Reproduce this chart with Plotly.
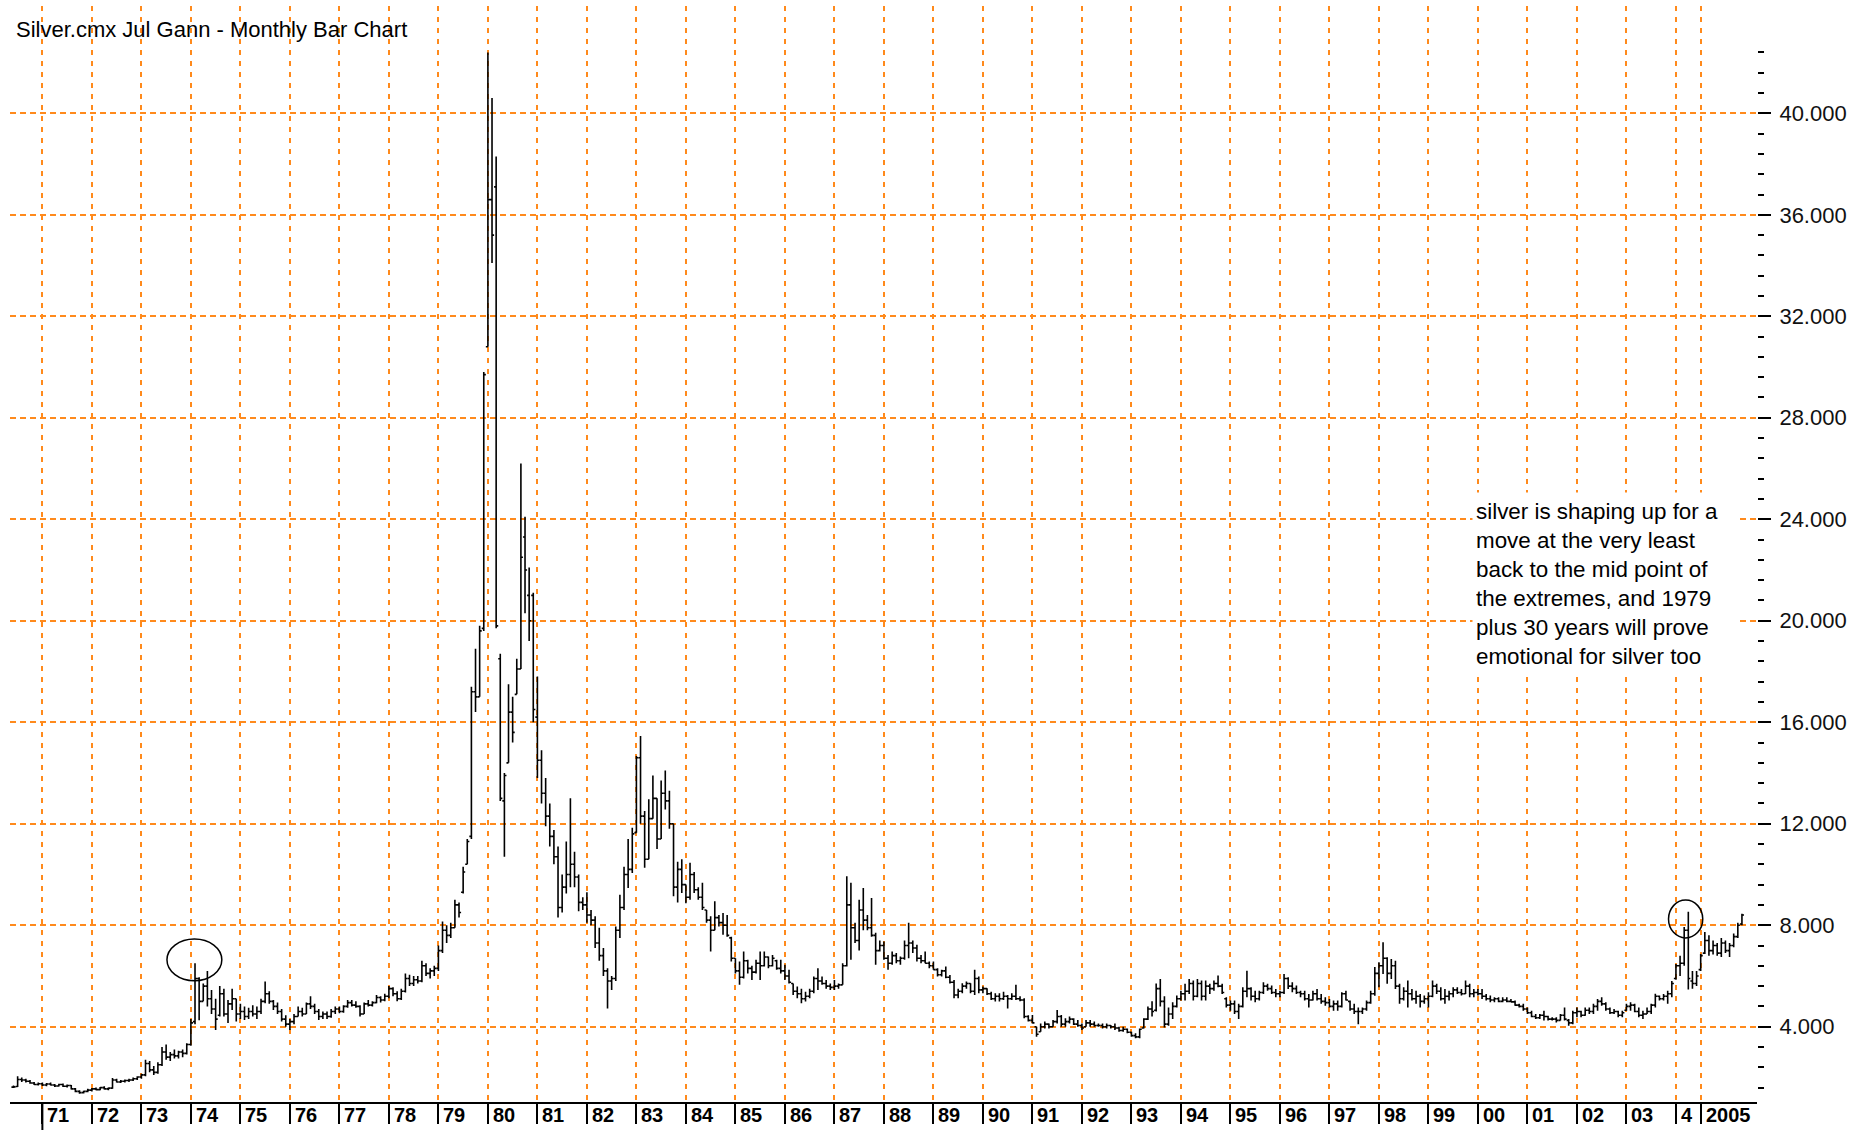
import pandas as pd
import plotly.graph_objects as go

# ---------------- data (monthly OHLC, Jun 1970 .. May 2005) ----------------
month_start = "1970-06"
month_end = "2005-05"

opens = [
    1.62, 1.64, 1.92, 1.90, 1.85, 1.78, 1.72,
    1.75, 1.70, 1.74, 1.70, 1.66, 1.72, 1.65, 1.68, 1.55, 1.45, 1.40, 1.45,
    1.50, 1.55, 1.52, 1.60, 1.55, 1.58, 1.90, 1.82, 1.85, 1.88, 1.90, 1.95,
    2.02, 2.10, 2.55, 2.30, 2.20, 2.50, 3.00, 2.80, 2.90, 2.85, 3.00, 2.95,
    3.30, 4.20, 5.90, 5.00, 5.60, 5.10, 4.70, 4.45, 5.30, 4.50, 4.90, 5.10,
    4.50, 4.60, 4.40, 4.60, 4.50, 4.60, 5.00, 5.30, 5.00, 4.80, 4.60, 4.30,
    4.10, 4.20, 4.40, 4.60, 4.50, 4.90, 4.80, 4.60, 4.40, 4.50, 4.40, 4.60,
    4.70, 4.60, 4.80, 4.95, 4.85, 4.80, 4.50, 4.90, 4.85, 4.95, 5.15, 5.05,
    5.20, 5.50, 5.30, 5.10, 5.40, 5.90, 5.70, 5.85, 5.80, 6.40, 6.10, 6.20,
    6.30, 7.00, 7.80, 7.60, 7.90, 8.80, 9.30, 10.40, 11.50, 17.20, 17.00, 19.70,
    30.80, 36.60, 37.10, 18.50, 12.90, 14.40, 16.40, 17.10, 18.10, 23.30, 21.00, 21.00,
    16.20, 14.50, 13.20, 12.30, 11.50, 10.70, 8.70, 9.50, 10.00, 10.40, 9.90, 8.90,
    8.80, 8.40, 8.20, 7.30, 6.80, 6.20, 5.80, 5.90, 7.80, 8.70, 10.00, 10.20,
    11.65, 14.60, 12.30, 10.60, 12.20, 13.00, 11.40, 13.20, 12.90, 12.00, 9.50, 10.20,
    9.60, 9.10, 10.00, 9.40, 9.10, 8.60, 8.20, 7.80, 8.30, 8.10, 8.00, 7.50,
    6.70, 6.20, 5.95, 6.60, 6.30, 6.15, 6.50, 6.40, 6.75, 6.40, 6.60, 6.30,
    6.20, 6.00, 5.70, 5.40, 5.30, 5.10, 5.20, 5.40, 5.90, 5.80, 5.70, 5.60,
    5.55, 5.60, 5.65, 6.40, 8.80, 7.90, 7.40, 8.60, 8.20, 7.90, 7.60, 7.00,
    7.20, 6.70, 6.50, 6.80, 6.60, 6.70, 7.20, 7.30, 7.10, 6.70, 6.60, 6.50,
    6.40, 6.25, 6.05, 6.20, 5.95, 5.75, 5.25, 5.40, 5.60, 5.70, 5.40, 5.90,
    5.45, 5.50, 5.30, 5.10, 5.20, 5.10, 5.20, 5.10, 5.20, 5.10, 5.05, 4.40,
    4.25, 4.00, 3.80, 4.00, 4.10, 4.00, 4.20, 4.40, 4.10, 4.20, 4.30, 4.10,
    4.05, 4.00, 4.15, 4.10, 4.05, 4.05, 4.00, 4.05, 4.00, 3.95, 3.85, 3.90,
    3.78, 3.65, 3.60, 3.95, 4.30, 4.70, 4.65, 5.50, 5.00, 4.10, 4.50, 4.80,
    5.10, 5.30, 5.40, 5.70, 5.20, 5.70, 5.20, 5.60, 5.50, 5.70, 5.60, 5.10,
    4.85, 4.90, 4.60, 4.80, 5.40, 5.50, 5.20, 5.10, 5.35, 5.60, 5.50, 5.35,
    5.30, 5.35, 5.90, 5.60, 5.50, 5.35, 5.30, 5.10, 5.05, 5.30, 5.10, 5.00,
    4.95, 4.80, 4.90, 4.80, 5.30, 5.00, 4.70, 4.60, 4.60, 4.70, 4.95, 5.30,
    6.10, 6.40, 6.70, 6.10, 6.40, 5.60, 5.10, 5.40, 5.30, 5.10, 5.20, 5.00,
    5.10, 5.20, 5.60, 5.40, 5.10, 5.20, 5.30, 5.45, 5.35, 5.30, 5.60, 5.30,
    5.35, 5.30, 5.20, 5.10, 5.05, 5.10, 5.00, 5.05, 5.00, 4.98, 4.85, 4.80,
    4.70, 4.55, 4.40, 4.35, 4.45, 4.40, 4.30, 4.30, 4.25, 4.45, 4.25, 4.15,
    4.55, 4.60, 4.45, 4.65, 4.60, 4.80, 5.00, 4.90, 4.70, 4.55, 4.60, 4.45,
    4.65, 4.80, 4.85, 4.60, 4.45, 4.50, 4.60, 4.85, 5.20, 5.10, 5.20, 5.30,
    5.90, 6.40, 6.50, 7.80, 5.80, 5.70, 6.25, 6.90, 7.40, 7.00, 7.20, 6.90,
    7.30, 7.00, 7.20, 7.55, 8.05,
]

highs = [
    1.68, 2.05, 2.00, 1.95, 1.90, 1.82, 1.80,
    1.80, 1.78, 1.80, 1.74, 1.75, 1.76, 1.72, 1.70, 1.58, 1.50, 1.48, 1.55,
    1.58, 1.60, 1.62, 1.65, 1.60, 1.98, 1.95, 1.90, 1.92, 1.95, 2.00, 2.05,
    2.15, 2.70, 2.65, 2.45, 2.60, 3.20, 3.30, 3.00, 3.10, 3.05, 3.10, 3.35,
    4.30, 6.50, 5.95, 5.70, 6.20, 5.45, 5.10, 5.60, 5.50, 5.05, 5.50, 5.10,
    4.90, 4.80, 4.75, 4.85, 4.80, 5.10, 5.78, 5.40, 5.05, 4.95, 4.70, 4.45,
    4.30, 4.50, 4.80, 4.75, 4.95, 5.20, 4.90, 4.70, 4.60, 4.60, 4.70, 4.80,
    4.80, 4.85, 5.05, 5.05, 5.00, 4.85, 4.95, 5.05, 5.00, 5.25, 5.20, 5.30,
    5.60, 5.55, 5.40, 5.50, 6.10, 6.05, 6.00, 6.00, 6.60, 6.50, 6.30, 6.40,
    7.20, 8.15, 8.00, 8.10, 9.00, 8.90, 10.30, 11.40, 17.40, 18.90, 19.80, 29.80,
    42.40, 40.60, 38.30, 18.70, 14.00, 17.50, 17.00, 18.50, 26.20, 24.10, 22.10, 21.10,
    17.80, 14.90, 13.80, 12.80, 11.75, 11.10, 10.00, 11.30, 13.00, 10.90, 10.00, 9.10,
    9.30, 8.60, 8.35, 7.90, 7.10, 6.30, 6.00, 7.95, 9.20, 10.30, 11.40, 11.84,
    14.67, 15.46, 12.50, 12.96, 13.90, 13.00, 13.70, 14.10, 13.30, 12.00, 10.50, 10.60,
    9.60, 10.46, 10.10, 9.50, 9.67, 8.60, 8.35, 8.94, 8.40, 8.48, 8.40, 7.55,
    6.70, 6.57, 6.96, 6.64, 6.40, 6.64, 6.96, 6.96, 6.77, 6.83, 6.64, 6.64,
    6.44, 6.24, 5.70, 5.58, 5.50, 5.38, 5.50, 5.98, 6.30, 5.98, 5.84, 5.70,
    5.84, 5.70, 6.50, 9.93, 9.67, 8.10, 9.00, 9.47, 8.40, 9.07, 7.70, 7.40,
    7.36, 6.83, 6.96, 6.90, 6.77, 7.40, 8.10, 7.40, 7.23, 6.83, 6.96, 6.57,
    6.57, 6.30, 6.24, 6.37, 6.04, 5.84, 5.50, 5.71, 5.78, 5.71, 6.24, 5.98,
    5.58, 5.52, 5.38, 5.32, 5.32, 5.38, 5.25, 5.32, 5.65, 5.20, 5.12, 4.45,
    4.46, 4.00, 4.13, 4.20, 4.13, 4.26, 4.66, 4.46, 4.33, 4.40, 4.33, 4.26,
    4.13, 4.26, 4.26, 4.20, 4.13, 4.13, 4.13, 4.07, 4.13, 4.00, 4.00, 3.93,
    3.80, 3.74, 3.93, 4.33, 4.80, 5.00, 5.70, 5.88, 5.20, 4.76, 4.96, 5.23,
    5.42, 5.69, 5.88, 5.82, 5.88, 5.82, 5.82, 5.69, 5.82, 6.02, 5.69, 5.16,
    5.03, 5.03, 4.90, 5.55, 6.21, 5.55, 5.42, 5.42, 5.75, 5.69, 5.62, 5.49,
    5.42, 6.08, 5.95, 5.75, 5.62, 5.42, 5.42, 5.29, 5.42, 5.49, 5.29, 5.16,
    5.09, 5.03, 5.03, 5.36, 5.42, 5.03, 4.90, 4.76, 4.76, 5.03, 5.42, 6.35,
    6.54, 7.33, 6.74, 6.67, 6.60, 5.69, 5.55, 5.82, 5.49, 5.42, 5.29, 5.23,
    5.36, 5.82, 5.69, 5.55, 5.49, 5.42, 5.55, 5.55, 5.49, 5.82, 5.69, 5.49,
    5.49, 5.49, 5.29, 5.23, 5.16, 5.16, 5.16, 5.16, 5.09, 5.03, 4.90, 4.90,
    4.76, 4.63, 4.50, 4.50, 4.63, 4.43, 4.37, 4.37, 4.50, 4.76, 4.30, 4.63,
    4.76, 4.63, 4.76, 4.76, 4.90, 5.09, 5.16, 4.96, 4.76, 4.70, 4.63, 4.63,
    4.90, 4.96, 4.90, 4.76, 4.63, 4.76, 4.90, 5.30, 5.23, 5.29, 5.42, 5.80,
    6.47, 6.80, 7.93, 8.53, 6.20, 6.20, 6.87, 7.73, 7.60, 7.40, 7.30, 7.50,
    7.40, 7.30, 7.67, 8.10, 8.45,
]

lows = [
    1.58, 1.62, 1.82, 1.80, 1.75, 1.70, 1.68,
    1.66, 1.65, 1.68, 1.62, 1.64, 1.62, 1.60, 1.52, 1.42, 1.36, 1.37, 1.42,
    1.45, 1.50, 1.50, 1.52, 1.50, 1.55, 1.80, 1.78, 1.80, 1.82, 1.86, 1.90,
    1.95, 2.05, 2.20, 2.10, 2.15, 2.45, 2.70, 2.65, 2.75, 2.75, 2.80, 2.90,
    3.25, 4.10, 4.25, 5.00, 4.80, 4.50, 3.87, 4.40, 4.40, 4.15, 4.66, 4.20,
    4.30, 4.26, 4.30, 4.40, 4.30, 4.50, 4.92, 4.90, 4.66, 4.50, 4.20, 4.00,
    3.87, 4.10, 4.40, 4.40, 4.50, 4.70, 4.50, 4.26, 4.30, 4.30, 4.35, 4.50,
    4.53, 4.55, 4.75, 4.80, 4.75, 4.40, 4.50, 4.80, 4.80, 4.92, 4.95, 5.00,
    5.12, 5.20, 5.00, 5.05, 5.35, 5.60, 5.60, 5.70, 5.75, 6.00, 5.90, 6.00,
    6.20, 6.90, 7.30, 7.50, 7.90, 8.30, 9.25, 10.40, 11.40, 16.40, 17.00, 19.60,
    30.80, 34.10, 19.70, 12.90, 10.70, 14.40, 15.20, 17.10, 18.10, 20.30, 19.20, 16.00,
    13.80, 12.80, 11.90, 11.10, 10.40, 8.30, 8.50, 9.25, 9.50, 9.50, 8.55, 8.60,
    8.10, 8.00, 7.10, 6.60, 6.00, 4.72, 5.45, 5.80, 7.50, 8.60, 9.47, 10.06,
    11.64, 12.00, 10.26, 10.60, 12.20, 11.00, 11.40, 12.56, 11.80, 9.14, 8.90, 9.27,
    8.87, 9.00, 9.27, 9.00, 8.60, 8.10, 6.96, 7.80, 7.95, 7.62, 7.55, 6.57,
    6.10, 5.65, 5.90, 6.10, 5.84, 6.10, 5.84, 6.37, 6.30, 6.37, 6.24, 6.10,
    5.84, 5.70, 5.25, 5.12, 4.92, 4.99, 5.12, 5.32, 5.45, 5.65, 5.50, 5.45,
    5.45, 5.50, 5.65, 6.37, 6.64, 7.30, 7.00, 7.80, 7.80, 7.55, 6.44, 6.96,
    6.64, 6.24, 6.44, 6.50, 6.44, 6.64, 6.70, 6.90, 6.57, 6.50, 6.50, 6.30,
    6.24, 5.98, 5.98, 5.91, 5.70, 5.12, 5.12, 5.32, 5.50, 5.32, 5.25, 5.32,
    5.32, 5.25, 5.05, 4.99, 4.99, 5.05, 4.72, 5.05, 5.05, 5.00, 4.33, 4.20,
    4.13, 3.60, 3.80, 3.93, 3.93, 4.00, 4.13, 4.00, 4.00, 4.13, 4.07, 4.00,
    3.87, 4.00, 4.00, 4.00, 4.00, 3.93, 3.93, 3.93, 3.87, 3.80, 3.80, 3.74,
    3.60, 3.54, 3.54, 3.93, 4.26, 4.40, 4.60, 4.80, 3.97, 4.04, 4.30, 4.76,
    5.03, 5.03, 5.29, 5.03, 5.16, 5.03, 5.03, 5.29, 5.42, 5.55, 5.29, 4.76,
    4.63, 4.50, 4.30, 4.76, 5.16, 5.03, 4.96, 5.03, 5.29, 5.42, 5.29, 5.16,
    5.16, 5.29, 5.49, 5.36, 5.29, 5.16, 5.03, 4.76, 5.03, 5.03, 4.90, 4.83,
    4.76, 4.63, 4.63, 4.76, 5.03, 4.63, 4.50, 4.10, 4.50, 4.63, 4.90, 5.22,
    5.55, 6.08, 5.69, 5.88, 5.49, 4.90, 5.03, 4.76, 5.03, 4.90, 4.76, 4.90,
    4.76, 5.16, 5.29, 5.03, 4.90, 5.03, 5.16, 5.29, 5.23, 5.29, 5.16, 5.16,
    5.23, 5.09, 5.03, 4.96, 4.96, 4.96, 4.96, 4.96, 4.96, 4.83, 4.76, 4.63,
    4.50, 4.37, 4.30, 4.30, 4.24, 4.24, 4.24, 4.17, 4.24, 4.24, 4.04, 4.10,
    4.37, 4.37, 4.43, 4.50, 4.50, 4.63, 4.83, 4.63, 4.50, 4.50, 4.37, 4.37,
    4.63, 4.63, 4.57, 4.37, 4.30, 4.50, 4.50, 4.76, 5.03, 5.03, 4.90, 5.16,
    5.85, 6.00, 6.40, 5.47, 5.50, 5.60, 6.20, 6.87, 6.80, 6.85, 6.80, 6.75,
    6.90, 6.75, 7.13, 7.50, 8.00,
]

closes = [
    1.63, 1.92, 1.90, 1.85, 1.78, 1.72, 1.75,
    1.70, 1.74, 1.70, 1.66, 1.72, 1.65, 1.68, 1.55, 1.45, 1.40, 1.45, 1.50,
    1.55, 1.52, 1.60, 1.55, 1.58, 1.90, 1.82, 1.85, 1.88, 1.90, 1.95, 2.02,
    2.10, 2.55, 2.30, 2.20, 2.50, 3.00, 2.80, 2.90, 2.85, 3.00, 2.95, 3.30,
    4.15, 5.90, 5.00, 5.60, 5.10, 4.70, 4.30, 5.30, 4.50, 4.90, 5.10, 4.50,
    4.60, 4.40, 4.60, 4.50, 4.60, 5.00, 5.30, 5.00, 4.80, 4.60, 4.30, 4.10,
    4.20, 4.40, 4.60, 4.50, 4.90, 4.80, 4.60, 4.40, 4.50, 4.40, 4.60, 4.70,
    4.60, 4.80, 4.95, 4.85, 4.80, 4.50, 4.90, 4.85, 4.95, 5.15, 5.05, 5.20,
    5.50, 5.30, 5.10, 5.40, 5.90, 5.70, 5.85, 5.80, 6.40, 6.10, 6.20, 6.30,
    7.00, 7.80, 7.60, 7.90, 8.80, 8.50, 10.10, 11.30, 17.20, 17.00, 19.60, 29.70,
    36.60, 35.20, 19.80, 13.00, 13.90, 16.40, 15.60, 18.10, 22.50, 22.00, 20.00, 16.50,
    14.50, 13.20, 12.30, 11.50, 10.70, 8.70, 9.50, 10.00, 10.40, 9.90, 8.90, 8.80,
    8.40, 8.20, 7.30, 6.80, 6.20, 5.80, 5.90, 7.80, 8.70, 10.00, 10.20, 11.60,
    14.60, 12.30, 10.60, 12.20, 13.00, 11.40, 13.20, 12.90, 12.00, 9.50, 10.20, 9.60,
    9.10, 10.00, 9.40, 9.10, 8.70, 8.20, 7.80, 8.30, 8.10, 8.00, 7.60, 6.70,
    6.20, 5.95, 6.60, 6.30, 6.15, 6.50, 6.40, 6.75, 6.40, 6.70, 6.30, 6.20,
    6.00, 5.75, 5.40, 5.30, 5.10, 5.20, 5.40, 5.90, 5.80, 5.70, 5.60, 5.55,
    5.60, 5.65, 6.40, 8.80, 7.90, 7.40, 8.60, 8.20, 7.90, 7.60, 7.00, 7.20,
    6.70, 6.50, 6.80, 6.60, 6.70, 7.20, 7.30, 7.10, 6.70, 6.60, 6.50, 6.40,
    6.25, 6.05, 6.20, 5.95, 5.75, 5.25, 5.40, 5.60, 5.70, 5.40, 5.90, 5.45,
    5.50, 5.30, 5.10, 5.20, 5.10, 5.20, 5.10, 5.20, 5.10, 5.05, 4.40, 4.25,
    4.15, 3.70, 4.00, 4.10, 4.00, 4.20, 4.40, 4.10, 4.20, 4.30, 4.10, 4.05,
    3.95, 4.15, 4.10, 4.05, 4.05, 4.00, 4.05, 4.00, 3.95, 3.85, 3.90, 3.78,
    3.65, 3.60, 3.90, 4.30, 4.70, 4.60, 5.50, 5.00, 4.10, 4.50, 4.80, 5.10,
    5.30, 5.40, 5.70, 5.20, 5.70, 5.20, 5.60, 5.50, 5.70, 5.60, 5.35, 4.85,
    4.90, 4.60, 4.80, 5.40, 5.50, 5.20, 5.10, 5.35, 5.60, 5.50, 5.35, 5.30,
    5.35, 5.90, 5.60, 5.50, 5.35, 5.30, 5.10, 5.05, 5.30, 5.10, 5.00, 4.95,
    4.80, 4.90, 4.80, 5.30, 5.05, 4.70, 4.60, 4.60, 4.70, 4.95, 5.30, 6.10,
    6.40, 6.70, 6.10, 6.40, 5.60, 5.10, 5.40, 5.30, 5.10, 5.20, 5.00, 5.10,
    5.20, 5.60, 5.40, 5.10, 5.20, 5.30, 5.45, 5.35, 5.30, 5.60, 5.30, 5.35,
    5.30, 5.20, 5.10, 5.05, 5.10, 5.00, 5.05, 5.00, 4.98, 4.85, 4.80, 4.70,
    4.55, 4.40, 4.35, 4.45, 4.40, 4.30, 4.30, 4.25, 4.45, 4.30, 4.15, 4.55,
    4.60, 4.45, 4.65, 4.60, 4.80, 5.00, 4.90, 4.70, 4.55, 4.60, 4.45, 4.55,
    4.80, 4.85, 4.60, 4.45, 4.50, 4.60, 4.85, 5.20, 5.10, 5.20, 5.30, 5.70,
    6.40, 6.50, 7.80, 5.90, 5.70, 6.00, 6.80, 7.40, 7.00, 7.20, 6.90, 7.30,
    7.00, 7.20, 7.55, 8.00, 8.40,
]

# axis labelling
year_tick_months = [f"{y}-01" for y in range(1971, 2005)] + ["2004-07"]
year_tick_labels = ["71", "72", "73", "74", "75", "76", "77", "78", "79", "80",
                    "81", "82", "83", "84", "85", "86", "87", "88", "89", "90",
                    "91", "92", "93", "94", "95", "96", "97", "98", "99", "00",
                    "01", "02", "03", "4", "2005"]
price_ticks = [4, 8, 12, 16, 20, 24, 28, 32, 36, 40]
price_tick_labels = ["4.000", "8.000", "12.000", "16.000", "20.000", "24.000",
                     "28.000", "32.000", "36.000", "40.000"]

title_text = "Silver.cmx Jul Gann - Monthly Bar Chart"
note_lines = ["silver is shaping up for a", "move at the very least",
              "back to the mid point of", "the extremes, and 1979",
              "plus 30 years will prove", "emotional for silver too"]

# highlighted highs: (start month, end month, low price, high price)
circle_1 = ("1973-07", "1974-08", 5.81, 7.46)
circle_2 = ("2003-11", "2004-07", 7.50, 8.99)

# ---------------- build ----------------
assert len(opens) == len(highs) == len(lows) == len(closes) == 420

def mpos(period_str, frac=0.0):
    p = pd.Period(period_str, freq="M")
    return (p.year - 1971) * 12 + (p.month - 1) + frac

months = pd.period_range(month_start, month_end, freq="M")
x = [(p.year - 1971) * 12 + (p.month - 1) for p in months]
tick_pos = [mpos(m) for m in year_tick_months]

ORANGE = "#FF8A1C"
FONT = "Liberation Sans"

fig = go.Figure()
fig.add_trace(go.Ohlc(
    x=x, open=opens, high=highs, low=lows, close=closes,
    increasing=dict(line=dict(color="black", width=1.6)),
    decreasing=dict(line=dict(color="black", width=1.6)),
    tickwidth=0.5, hoverinfo="skip", showlegend=False,
))

minor_vals = [round(0.8 * k, 1) for k in range(2, 54) if k % 5 != 0]

fig.update_layout(
    width=1859, height=1136,
    margin=dict(l=10, r=102, t=6, b=34),
    paper_bgcolor="white", plot_bgcolor="white",
    showlegend=False,
    font=dict(family=FONT, color="black"),
    xaxis=dict(
        range=[-7.85, 415.65],
        tickmode="array", tickvals=tick_pos, showticklabels=False,
        ticks="outside", ticklen=20, tickwidth=2, tickcolor="black",
        showgrid=True, gridcolor=ORANGE, gridwidth=1.5, griddash="5px,6px",
        showline=True, linecolor="black", linewidth=2,
        zeroline=False, rangeslider=dict(visible=False), fixedrange=True,
    ),
    yaxis=dict(
        side="right", range=[1.032, 44.23],
        tickmode="array", tickvals=price_ticks, ticktext=price_tick_labels,
        ticks="outside", ticklen=13, tickwidth=2, tickcolor="black",
        tickfont=dict(size=22, family=FONT, color="#111111"),
        ticklabelstandoff=4,
        showgrid=True, gridcolor=ORANGE, gridwidth=1.5, griddash="6px,4px",
        showline=False, zeroline=False, fixedrange=True,
        minor=dict(tickmode="array", tickvals=minor_vals, ticks="outside",
                   ticklen=6, tickwidth=2, tickcolor="black", showgrid=False),
    ),
)

plot_h = 1136 - 6 - 34
plot_w = 1859 - 10 - 102

annotations = [
    dict(text=title_text, xref="paper", yref="paper",
         x=(14 - 10) / plot_w, y=(1102 - 29) / plot_h,
         xanchor="left", yanchor="middle", showarrow=False,
         font=dict(size=22, family=FONT, color="black")),
    dict(text="<br>".join(note_lines), xref="paper", yref="paper",
         x=(1472 - 10) / plot_w, y=(1102 - 584) / plot_h,
         xanchor="left", yanchor="middle", align="left", valign="middle",
         width=259, height=176, borderpad=3, bgcolor="white",
         showarrow=False,
         font=dict(size=22.4, family=FONT, color="black")),
]
for pos, lab in zip(tick_pos, year_tick_labels):
    annotations.append(dict(
        text=lab, xref="x", yref="paper", x=pos, y=-13 / plot_h,
        xanchor="left", yanchor="middle", xshift=3, showarrow=False,
        font=dict(size=20, family=FONT, color="black", weight="bold")))
fig.update_layout(annotations=annotations)

shapes = []
for (m0, m1, p0, p1) in (circle_1, circle_2):
    shapes.append(dict(type="circle", xref="x", yref="y",
                       x0=mpos(m0, 0.2), x1=mpos(m1, 0.5), y0=p0, y1=p1,
                       line=dict(color="black", width=1.5)))
# longer first year tick
shapes.append(dict(type="line", xref="x", yref="paper",
                   x0=tick_pos[0], x1=tick_pos[0], y0=0, y1=-28 / plot_h,
                   line=dict(color="black", width=2)))
fig.update_layout(shapes=shapes)

fig.write_html("out.html", config={"displayModeBar": False},
               post_script="document.body.style.margin='0';document.body.style.overflow='hidden';")
